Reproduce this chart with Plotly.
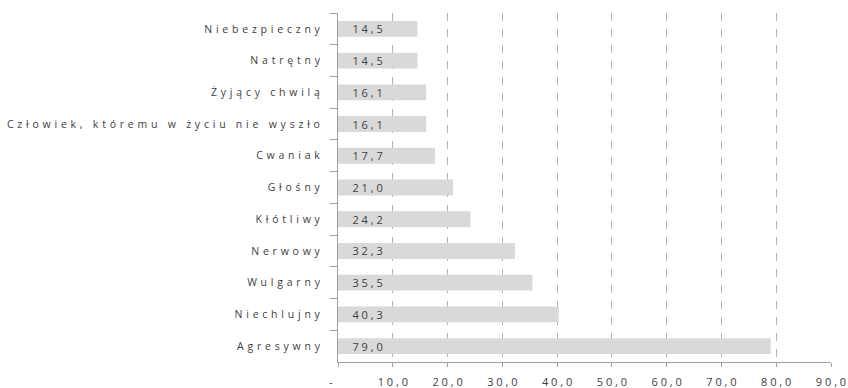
import plotly.graph_objects as go

# Data (top to bottom as displayed)
categories = [
    "Niebezpieczny",
    "Natrętny",
    "Żyjący chwilą",
    "Człowiek, któremu w życiu nie wyszło",
    "Cwaniak",
    "Głośny",
    "Kłótliwy",
    "Nerwowy",
    "Wulgarny",
    "Niechlujny",
    "Agresywny",
]
values = [14.5, 14.5, 16.1, 16.1, 17.7, 21.0, 24.2, 32.3, 35.5, 40.3, 79.0]
tick_vals = [0, 10, 20, 30, 40, 50, 60, 70, 80, 90]
tick_labels = ["-", "10,0", "20,0", "30,0", "40,0", "50,0", "60,0", "70,0", "80,0", "90,0"]


def spaced(s, gap=" "):
    return gap.join(list(s))


cat_labels = [spaced(c, " \u200a") for c in categories]
value_text = ["    " + spaced(f"{v:.1f}".replace(".", ",")) for v in values]
x_ticktext = [(t + "\u00a0" * 5) if t == "-" else spaced(t) for t in tick_labels]

fig = go.Figure()
fig.add_trace(go.Bar(
    x=values,
    y=cat_labels,
    orientation="h",
    marker=dict(color="#d9d9d9", line=dict(width=0)),
    width=0.5,
    text=value_text,
    textposition="inside",
    insidetextanchor="start",
    constraintext="none",
    textfont=dict(family="Open Sans", size=11, color="#404040"),
    hoverinfo="skip",
))

fig.update_layout(
    template="none",
    width=848,
    height=388,
    margin=dict(l=338, r=17, t=13, b=26, autoexpand=False),
    paper_bgcolor="white",
    plot_bgcolor="white",
    showlegend=False,
    font=dict(family="Open Sans", size=11, color="#404040"),
)

fig.update_xaxes(
    range=[0, 90],
    tickvals=tick_vals,
    ticktext=x_ticktext,
    showgrid=True,
    gridcolor="#b4b4b4",
    griddash="8px,8px",
    gridwidth=1,
    zeroline=False,
    showline=True,
    linecolor="#a0a0a0",
    linewidth=1,
    ticks="outside",
    ticklen=4,
    tickcolor="#a0a0a0",
    ticklabelstandoff=6,
    automargin=False,
    tickfont=dict(family="Open Sans", size=11, color="#404040"),
    fixedrange=True,
)

fig.update_yaxes(
    type="category",
    autorange="reversed",
    showgrid=False,
    showline=True,
    linecolor="#a0a0a0",
    linewidth=1,
    ticks="outside",
    tickson="boundaries",
    ticklen=7,
    tickcolor="#a0a0a0",
    ticklabelstandoff=15,
    automargin=False,
    tickfont=dict(family="Open Sans", size=10.5, color="#404040"),
    fixedrange=True,
)

fig.write_html("out.html")
